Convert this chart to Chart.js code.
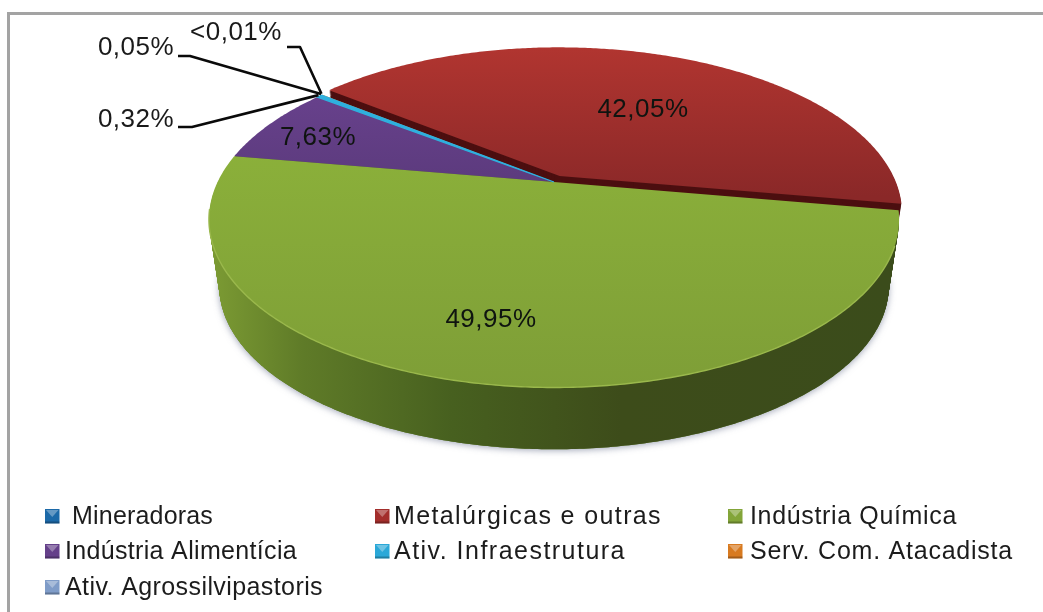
<!DOCTYPE html>
<html lang="pt">
<head>
<meta charset="utf-8">
<style>
html,body{margin:0;padding:0;background:#fff;overflow:hidden}
canvas{display:block;filter:blur(0.55px)}
</style>
<script src="https://cdn.jsdelivr.net/npm/chart.js@4/dist/chart.umd.min.js"></script>
</head>
<body>
<canvas id="c" width="1043" height="612"></canvas>
<script>
const categories = [" Mineradoras","Metalúrgicas e outras","Indústria Química","Indústria Alimentícia","Ativ. Infraestrutura","Serv. Com. Atacadista","Ativ. Agrossilvipastoris"];
const shares = [0.005,42.05,49.95,7.63,0.32,0.05,0];
const shareLabels = ["<0,01%","42,05%","49,95%","7,63%","0,32%","0,05%",""];
const sliceColors = ["#1c69a8","#a32e2c","#83a539","#65408a","#2aa8d8","#d87a20","#7f9cc8"];

// Look of the tilted disc
const TILT=0.2227, SQUASH=0.4748, DEPTH=68, TAPER=0.97;
const FONT='"Liberation Sans", Arial, sans-serif';
const legendWidths=[148,268,207,232,232,263,258];

const faceFill={1:["#b13530","#8a2828"],2:["#8bb03a","#7e9e37"],3:["#6d4493","#5b3a7c"],4:["#2fb0de","#2aa2d0"]};
const wallFill={1:"#4c0f10",3:"#3d2657",4:"#176a8a",0:"#124a75",5:"#8a4c12",6:"#506a90"};

function pt(arc,u,v,h){
  const w=1-TILT*v, s=1-(1-TAPER)*h, R=arc.outerRadius;
  return [arc.x+R*s*u/w, arc.y+DEPTH*h+R*SQUASH*s*v/w];
}
function shift(arc){
  const o=(arc.options.offset||0)/arc.outerRadius, m=(arc.startAngle+arc.endAngle)/2;
  return [o*Math.cos(m),o*Math.sin(m)];
}
function rimPt(arc,t,h,r){
  const [du,dv]=shift(arc), k=r===undefined?1:r;
  return pt(arc,du+k*Math.cos(t),dv+k*Math.sin(t),h);
}
function slicePath(ctx,arc,h){
  const [du,dv]=shift(arc);
  ctx.beginPath();
  const c=pt(arc,du,dv,h);
  ctx.moveTo(c[0],c[1]);
  const n=Math.max(2,Math.ceil((arc.endAngle-arc.startAngle)/0.01));
  for(let i=0;i<=n;i++){
    const t=arc.startAngle+(arc.endAngle-arc.startAngle)*i/n;
    const p=rimPt(arc,t,h);
    ctx.lineTo(p[0],p[1]);
  }
  ctx.closePath();
}
function drawSolid(ctx,arc,i){
  if(arc.endAngle-arc.startAngle<=0) return;
  let wall=wallFill[i];
  if(i===2){
    const g=ctx.createLinearGradient(arc.x-340,0,arc.x+340,0);
    g.addColorStop(0,"#7b9a33");g.addColorStop(0.13,"#5f7b28");g.addColorStop(0.35,"#47601f");
    g.addColorStop(0.6,"#3d4c1a");g.addColorStop(1,"#3b4c1b");
    wall=g;
  }
  ctx.fillStyle=wall;
  for(let d=DEPTH;d>0;d-=1){slicePath(ctx,arc,d/DEPTH);ctx.fill();}
  const f=faceFill[i]||[sliceColors[i],sliceColors[i]];
  const top=rimPt(arc,-Math.PI/2,0)[1], bot=rimPt(arc,Math.PI/2,0)[1];
  const g=ctx.createLinearGradient(0,i===2?150:top,0,i===2?bot:(i===1?rimPt(arc,arc.startAngle+2.6,0)[1]:190));
  g.addColorStop(0,f[0]);g.addColorStop(1,f[1]);
  ctx.fillStyle=g;
  slicePath(ctx,arc,0);ctx.fill();
  if(i===2){
    ctx.beginPath();
    for(let t=Math.PI*0.12;t<Math.PI*0.95;t+=0.01){
      const p=rimPt(arc,t,0);
      ctx.lineTo(p[0],p[1]);
    }
    ctx.strokeStyle="#9ab84c";ctx.lineWidth=1.4;ctx.stroke();
  }
}

const labelSpots={1:[643,110],2:[491,320],3:[318,138]};
const calloutSpots={
  0:{text:[236,33],knee:[[287,47],[300,47]]},
  5:{text:[136,48],knee:[[178,56],[190,56]]},
  4:{text:[136,120],knee:[[178,127],[192,127]]}
};

const disc3d={
  id:"disc3d",
  beforeDatasetDraw(){return false;},
  afterDatasetsDraw(chart){
    const ctx=chart.ctx, arcs=chart.getDatasetMeta(0).data;
    ctx.save();
    // soft cast shadow around the wall
    const green=arcs[2];
    ctx.save();
    ctx.shadowColor="rgba(90,100,130,0.6)";ctx.shadowBlur=7;ctx.shadowOffsetX=0;ctx.shadowOffsetY=1;
    ctx.fillStyle="#5f7b28";slicePath(ctx,green,1);ctx.fill();
    ctx.restore();
    [1,0,6,5,4,3,2].forEach(i=>drawSolid(ctx,arcs[i],i));
    // the thin blue slice keeps its width on top of its neighbours
    ctx.fillStyle=ctx.strokeStyle=faceFill[4][0];ctx.lineWidth=1.2;
    slicePath(ctx,arcs[4],0);ctx.fill();ctx.stroke();
    // frame
    ctx.fillStyle="#a3a3a3";
    ctx.fillRect(7,12,1036,3);ctx.fillRect(7,12,3,600);
    // value labels
    ctx.textAlign="center";ctx.textBaseline="middle";
    ctx.font="26px "+FONT;ctx.letterSpacing="0.5px";
    Object.keys(labelSpots).forEach(i=>{
      ctx.fillStyle="#0f1410";
      ctx.fillText(shareLabels[i],labelSpots[i][0],labelSpots[i][1]);
    });
    // callouts
    Object.keys(calloutSpots).forEach(i=>{
      const c=calloutSpots[i], a=arcs[i], end=rimPt(a,(a.startAngle+a.endAngle)/2,0);
      ctx.fillStyle="#1a1a1a";
      ctx.fillText(shareLabels[i],c.text[0],c.text[1]);
      ctx.beginPath();ctx.moveTo(c.knee[0][0],c.knee[0][1]);ctx.lineTo(c.knee[1][0],c.knee[1][1]);
      ctx.lineTo(end[0]-1,end[1]-1);
      ctx.strokeStyle="#0a0a0a";ctx.lineWidth=2.6;ctx.lineJoin="round";ctx.stroke();
    });
    // legend
    const cols=[45,375,728], texts=[65,394,750], rows=[524,559,595];
    ctx.textAlign="left";ctx.textBaseline="alphabetic";
    ctx.font="25px "+FONT;
    categories.forEach((name,i)=>{
      const col=i%3,row=Math.floor(i/3),x=cols[col],y=rows[row]-15,sz=14.5;
      ctx.fillStyle=sliceColors[i];ctx.fillRect(x,y,sz,sz);
      ctx.fillStyle="rgba(255,255,255,0.32)";
      ctx.beginPath();ctx.moveTo(x+1,y+1);ctx.lineTo(x+sz-1,y+1);ctx.lineTo(x+sz/2,y+sz*0.55);ctx.closePath();ctx.fill();
      ctx.fillStyle="rgba(0,0,0,0.25)";
      ctx.fillRect(x,y+sz-2,sz,2);
      ctx.fillStyle="#1c1c1c";
      ctx.letterSpacing="0px";
      const natural=ctx.measureText(name).width;
      ctx.letterSpacing=((legendWidths[i]-natural)/name.length).toFixed(3)+"px";
      ctx.fillText(name,texts[col],rows[row]);
    });
    ctx.restore();
  }
};

new Chart(document.getElementById("c"),{
  type:"pie",
  data:{labels:categories,datasets:[{data:shares,backgroundColor:sliceColors,borderWidth:0,offset:[0,14,0,0,0,0,0]}]},
  options:{
    responsive:false,animation:false,
    radius:336.4,rotation:-51.6,
    layout:{padding:{left:65,right:0,top:0,bottom:248}},
    plugins:{legend:{display:false},tooltip:{enabled:false}}
  },
  plugins:[disc3d]
});
</script>
</body>
</html>
